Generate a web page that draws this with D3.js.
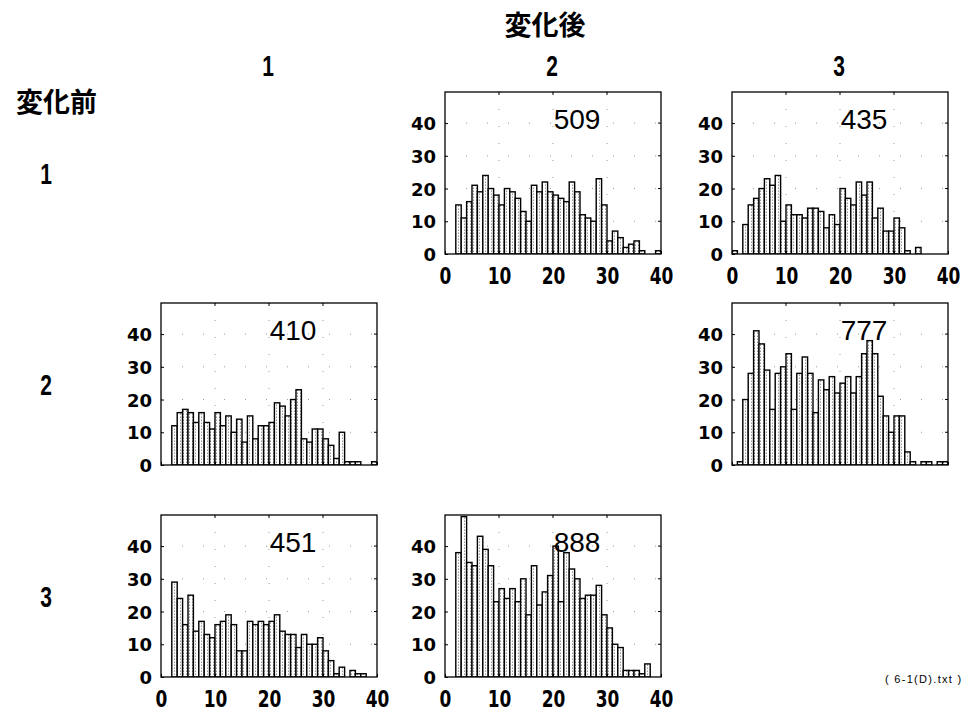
<!DOCTYPE html>
<html><head><meta charset="utf-8">
<script src="https://cdn.jsdelivr.net/npm/d3@7"></script>
<style>body{margin:0;background:#fff}</style>
</head><body><svg id="c" width="978" height="713"></svg>
<script>
// ---- DATA (counts per bin 0..39) ----
const binStarts = d3.range(0, 40);
const counts_1_2 = [0,0,15,11,16,21,19,24,20,18,15,20,19,17,13,10,21,19,22,19,18,17,16,22,19,12,11,10,23,15,4,7,5,2,3,4,1,0,0,1]; // 509
const counts_1_3 = [1,0,9,15,17,20,23,21,24,10,15,12,12,11,14,14,13,8,12,9,20,17,15,22,18,22,11,14,7,7,11,8,1,0,2,0,0,0,0,0]; // 435
const counts_2_1 = [0,0,12,16,17,16,13,16,13,11,16,12,15,10,14,7,15,8,12,12,13,19,18,15,20,23,8,7,11,11,8,6,2,10,1,1,1,0,0,1]; // 410
const counts_2_3 = [0,1,20,28,41,37,29,17,28,30,34,17,28,33,28,16,26,23,27,22,25,27,22,27,34,38,34,21,15,10,15,15,4,1,0,1,1,0,1,1]; // 777
const counts_3_1 = [0,0,29,24,16,25,14,17,13,12,16,17,19,16,8,8,17,16,17,16,17,19,14,13,13,9,13,10,10,12,8,5,1,3,0,2,1,1,0,0]; // 451
const counts_3_2 = [0,0,38,49,35,34,43,39,34,23,27,24,27,23,30,19,34,22,26,31,40,23,38,33,30,24,25,25,28,19,15,10,9,2,2,2,1,4,0,0]; // 888
const totals = [509, 435, 410, 777, 451, 888];
const colLabels = ["1", "2", "3"];
const rowLabels = ["1", "2", "3"];
const xTicks = [0, 10, 20, 30, 40];
const yTicks = [0, 10, 20, 30, 40];
const gridX = [10, 20, 30];
const gridY = [10, 20, 30, 40];
const titleTop = "変化後";
const titleLeft = "変化前";
const footnote = "( 6-1(D).txt )";

const panels = [
  {row:0, col:1, counts:counts_1_2, total:totals[0], xLabels:true},
  {row:0, col:2, counts:counts_1_3, total:totals[1], xLabels:true},
  {row:1, col:0, counts:counts_2_1, total:totals[2], xLabels:false},
  {row:1, col:2, counts:counts_2_3, total:totals[3], xLabels:false},
  {row:2, col:0, counts:counts_3_1, total:totals[4], xLabels:true},
  {row:2, col:1, counts:counts_3_2, total:totals[5], xLabels:true}
];

// ---- LAYOUT ----
const colLeft = [161, 445, 732];
const rowTop = [92, 303, 515];
const W = 216, H = 162;

const svg = d3.select("#c");
const defs = svg.append("defs");
const pat = defs.append("pattern").attr("id","stip").attr("patternUnits","userSpaceOnUse")
  .attr("width",3).attr("height",3);
pat.append("rect").attr("width",3).attr("height",3).attr("fill","#fff");
pat.append("rect").attr("x",1).attr("y",0).attr("width",1).attr("height",1).attr("fill","#9a9a9a");
pat.append("rect").attr("x",1).attr("y",2).attr("width",1).attr("height",1).attr("fill","#c8c8c8");

const x = d3.scaleLinear().domain([0, 40]).range([0, W]);
const y = d3.scaleLinear().domain([0, 49.5]).range([H, 0]);

panels.forEach((p, i) => {
  const g = svg.append("g").attr("transform", `translate(${colLeft[p.col]},${rowTop[p.row]})`);
  defs.append("clipPath").attr("id","clip"+i).append("rect").attr("width",W).attr("height",H);
  const inner = g.append("g").attr("clip-path", `url(#clip${i})`);
  // dotted grid
  inner.selectAll("line.gx").data(gridX).join("line")
    .attr("x1", d=>x(d)).attr("x2", d=>x(d)).attr("y1",0).attr("y2",H)
    .attr("stroke","#999").attr("stroke-width",1).attr("stroke-dasharray","1,16");
  inner.selectAll("line.gy").data(gridY).join("line")
    .attr("y1", d=>y(d)).attr("y2", d=>y(d)).attr("x1",0).attr("x2",W)
    .attr("stroke","#999").attr("stroke-width",1).attr("stroke-dasharray","1,20");
  // bars
  const data = binStarts.map((b, k) => ({b, v: p.counts[k]})).filter(d => d.v > 0);
  inner.selectAll("rect.bar").data(data).join("rect")
    .attr("x", d => x(d.b)).attr("width", x(1) - x(0))
    .attr("y", d => y(d.v)).attr("height", d => H - y(d.v))
    .attr("fill","url(#stip)").attr("stroke","#000").attr("stroke-width",1.4);
  // frame
  g.append("rect").attr("width",W).attr("height",H).attr("fill","none")
    .attr("stroke","#000").attr("stroke-width",1.3);
  // top & right inner ticks
  g.selectAll("line.tt").data(gridX).join("line")
    .attr("x1",d=>x(d)).attr("x2",d=>x(d)).attr("y1",0).attr("y2",3).attr("stroke","#000");
  g.selectAll("line.rt").data(gridY).join("line")
    .attr("x1",W).attr("x2",W-3).attr("y1",d=>y(d)).attr("y2",d=>y(d)).attr("stroke","#000");
  // left axis
  const ya = g.append("g").call(d3.axisLeft(y).tickValues(yTicks).tickSize(-3).tickPadding(9));
  ya.select(".domain").remove();
  ya.selectAll("text").style("font-family","'DejaVu Sans', sans-serif").style("font-weight","bold")
    .style("font-size","18px").attr("fill","#000").attr("dy","0.36em");
  // bottom axis
  const xa = g.append("g").attr("transform",`translate(0,${H})`)
    .call(d3.axisBottom(x).tickValues(xTicks).tickSize(-3).tickPadding(0));
  xa.select(".domain").remove();
  if (p.xLabels) {
    xa.selectAll("text").style("font-family","'DejaVu Sans', sans-serif").style("font-weight","bold")
      .style("font-size","17px").attr("fill","#000").attr("y",0).attr("dy",0)
      .attr("transform","translate(0,30) scale(1,1.35)");
  } else {
    xa.selectAll("text").remove();
  }
  // total label
  g.append("text").attr("x",132).attr("y",36.5).attr("text-anchor","middle")
    .attr("font-family","Liberation Sans").attr("font-size","28px").attr("fill","#000")
    .text(p.total);
});

// headers
svg.append("text").attr("x",545).attr("y",34.5).attr("text-anchor","middle")
  .attr("font-family","Noto Sans CJK JP").attr("font-weight","bold").attr("font-size","27px")
  .text(titleTop);
svg.append("text").attr("x",56.5).attr("y",111.5).attr("text-anchor","middle")
  .attr("font-family","Noto Sans CJK JP").attr("font-weight","bold").attr("font-size","27px")
  .text(titleLeft);
colLabels.forEach((t, c) => {
  svg.append("text").attr("transform",`translate(${colLeft[c] + W/2 - 1},75.5) scale(0.75,1.05)`)
    .attr("text-anchor","middle").attr("font-family","Liberation Sans").attr("font-weight","bold")
    .attr("font-size","28px").text(t);
});
rowLabels.forEach((t, r) => {
  svg.append("text").attr("transform",`translate(46,${rowTop[r] + H/2 + 10.5}) scale(0.75,1.05)`)
    .attr("text-anchor","middle").attr("font-family","Liberation Sans").attr("font-weight","bold")
    .attr("font-size","28px").text(t);
});
svg.append("text").attr("x",885).attr("y",683).attr("font-family","Liberation Sans")
  .attr("font-size","11px").attr("letter-spacing","1.3px").text(footnote);
</script></body></html>
